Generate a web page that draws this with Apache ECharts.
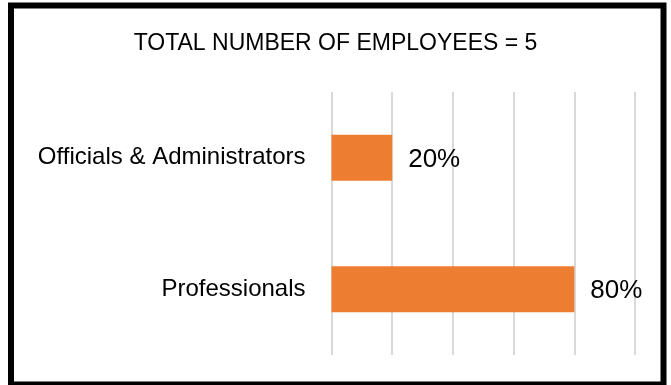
<!DOCTYPE html>
<html>
<head>
<meta charset="utf-8">
<script src="https://cdn.jsdelivr.net/npm/echarts@6/dist/echarts.min.js"></script>
<style>
html,body{margin:0;padding:0;background:#fff;}
#chart{width:671px;height:385px;}
</style>
</head>
<body>
<div id="chart"></div>
<script>
var titleText = 'TOTAL NUMBER OF EMPLOYEES = 5';
var categories = ['Officials & Administrators', 'Professionals'];
var percentValues = [20, 80];
var axisTicks = [0, 20, 40, 60, 80, 100];

var chart = echarts.init(document.getElementById('chart'), null, {renderer: 'canvas'});
var font = '"Liberation Sans", Arial, sans-serif';
chart.setOption({
  animation: false,
  backgroundColor: '#ffffff',
  title: {
    text: titleText,
    left: 'center',
    top: 32,
    padding: 0,
    textStyle: {fontFamily: font, fontSize: 23, fontWeight: 'normal', color: '#000000'}
  },
  grid: {left: 331.5, right: 36, top: 92, bottom: 30, containLabel: false},
  xAxis: {
    type: 'value',
    min: axisTicks[0],
    max: axisTicks[axisTicks.length - 1],
    interval: axisTicks[1] - axisTicks[0],
    axisLabel: {show: false},
    axisLine: {show: false},
    axisTick: {show: false},
    splitLine: {show: true, lineStyle: {color: '#d9d9d9', width: 2}}
  },
  yAxis: {
    type: 'category',
    data: categories,
    inverse: true,
    axisLine: {show: false},
    axisTick: {show: false},
    splitLine: {show: false},
    axisLabel: {margin: 26, fontFamily: font, fontSize: 24, color: '#000000'}
  },
  series: [{
    type: 'bar',
    data: percentValues,
    barWidth: 46,
    itemStyle: {color: '#ED7D31'},
    label: {
      show: true,
      position: 'right',
      distance: 16,
      formatter: '{c}%',
      fontFamily: font,
      fontSize: 26,
      color: '#000000',
      offset: [0, 2]
    }
  }],
  graphic: [{
    type: 'rect',
    shape: {x: 11, y: 5.5, width: 652.5, height: 379},
    style: {fill: null, stroke: '#000000', lineWidth: 6},
    silent: true,
    z: 100
  }]
});
</script>
</body>
</html>
